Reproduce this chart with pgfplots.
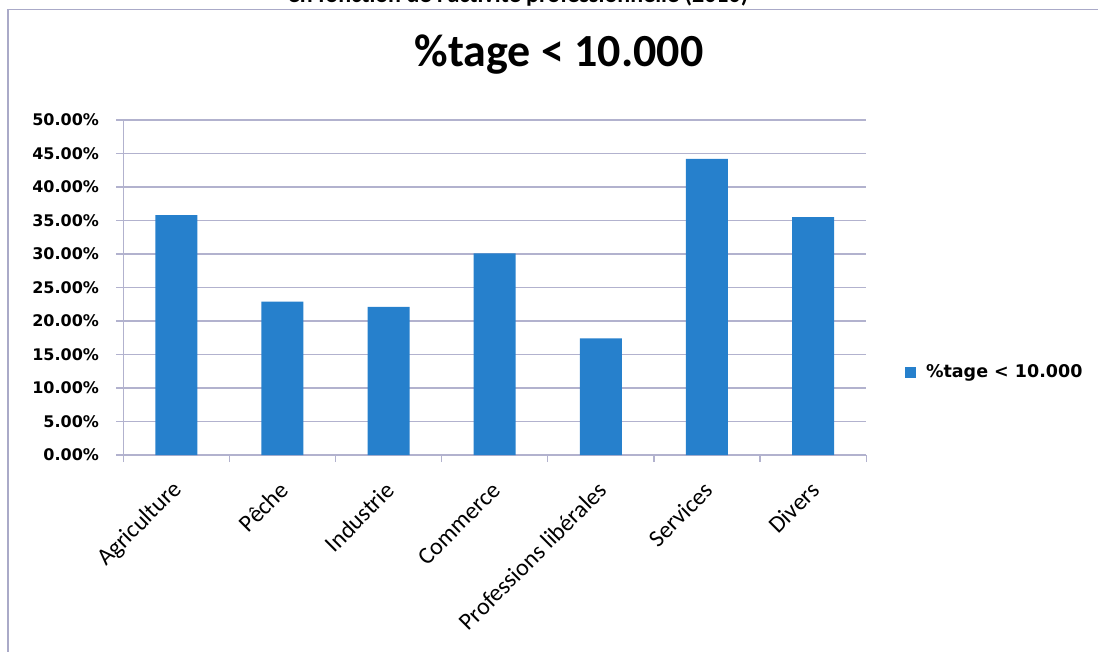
\documentclass[border=0pt]{standalone}
\usepackage{pgfplots}
\pgfplotsset{compat=1.18}
\usepackage{fontspec}
\setmainfont{Carlito}
\newfontfamily\dejavu{DejaVu Sans}
\definecolor{barblue}{RGB}{38,128,204}
\definecolor{gridc}{RGB}{178,178,206}
\definecolor{framec}{RGB}{170,170,200}
\begin{document}
\begin{tikzpicture}[x=1pt,y=1pt]
\useasboundingbox (0,0) rectangle (1098,652);
\clip (0,0) rectangle (1098,652);
\draw[framec, line width=1.5pt] (8,-10) -- (8,642.5) -- (1110,642.5);
\node[font=\bfseries\fontsize{24}{28}\selectfont, anchor=base] at (518,649) {en fonction de l'activité professionnelle (2010)};
\node[font=\bfseries\fontsize{46}{52}\selectfont, anchor=base] at (559,585) {\%tage < 10.000};
\begin{axis}[
  at={(166.07,294)}, anchor=origin,
  scale only axis, width=743pt, height=335pt,
  xmin=-0.5, xmax=6.5, ymin=0, ymax=50,
  ybar, bar width=42pt,
  axis lines*=left,
  axis line style={gridc, line width=1.2pt},
  ytick={0,5,...,50},
  yticklabels={0.00\%,5.00\%,10.00\%,15.00\%,20.00\%,25.00\%,30.00\%,35.00\%,40.00\%,45.00\%,50.00\%},
  ymajorgrids,
  grid style={gridc, line width=1.2pt},
  xtick={0,...,6},
  xticklabels={Agriculture,Pêche,Industrie,Commerce,Professions libérales,Services,Divers},
  major x tick style={draw=none},
  minor xtick={-0.5,0.5,...,6.5},
  tick align=outside,
  major tick length=7pt, minor tick length=7pt,
  tick style={gridc, line width=1.2pt},
  yticklabel style={font=\dejavu\bfseries\fontsize{16}{20}\selectfont, anchor=east, inner sep=0pt, xshift=-17pt},
  xticklabel style={font=\fontsize{24}{28}\selectfont, xshift=2pt, yshift=-24pt, rotate=45, anchor=east, inner sep=0pt},
  legend style={at={(1.052,0.2478)}, anchor=west, draw=none, fill=none, inner sep=0pt, font=\dejavu\bfseries\fontsize{17.5}{20}\selectfont},
  legend cell align=left,
]
\addplot[fill=barblue, draw=none, legend image code/.code={\fill[barblue] (0pt,-5.5pt) rectangle (11pt,5.5pt); \path (19pt,0pt);}]
  coordinates {(0,35.8)(1,22.9)(2,22.1)(3,30.1)(4,17.4)(5,44.2)(6,35.5)};
\addlegendentry{\%tage < 10.000}
\end{axis}
\end{tikzpicture}
\end{document}
